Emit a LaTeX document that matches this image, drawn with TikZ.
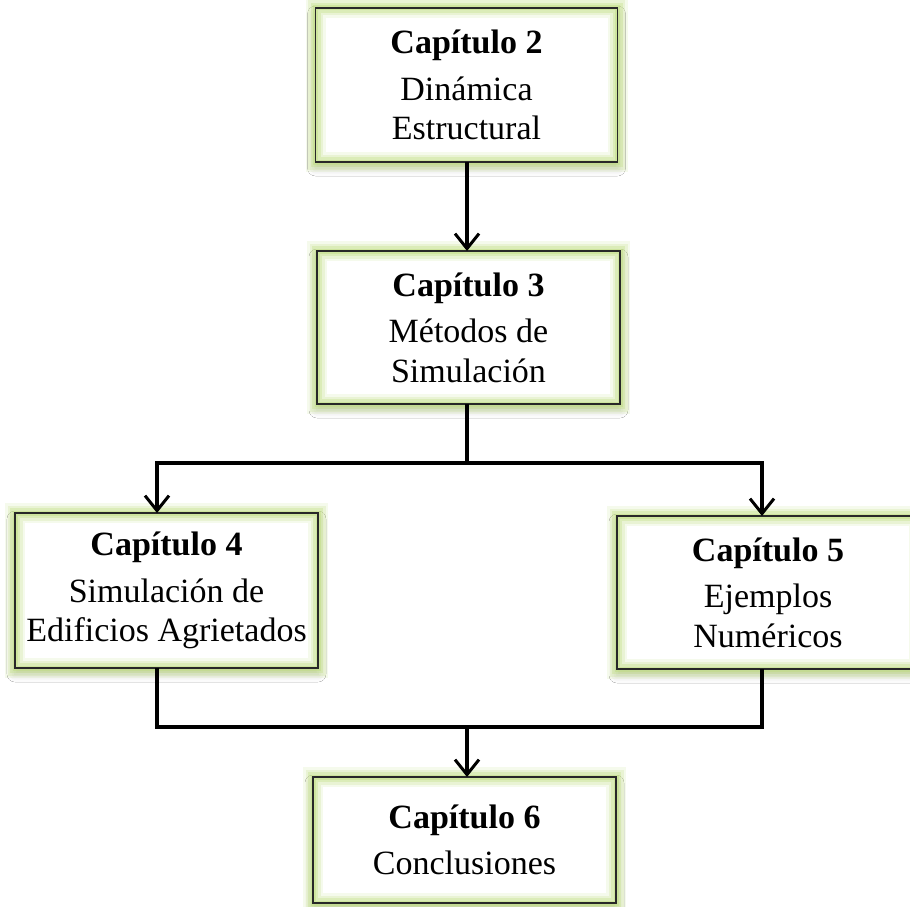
\documentclass[tikz,border=0pt]{standalone}
\usepackage{fontspec}
\setmainfont{Liberation Serif}
\usetikzlibrary{arrows.meta,shadows.blur}
\definecolor{glowc}{RGB}{192,222,128}
\definecolor{edgec}{RGB}{40,40,40}
\tikzset{
  chap/.style={rectangle, inner sep=0pt, outer sep=0pt, fill=white,
    align=center, font=\fontsize{34}{39.5}\selectfont,
    blur shadow={shadow xshift=0pt, shadow yshift=-6pt, shadow blur radius=8pt, shadow opacity=22},
    postaction={draw=glowc, line width=20pt, draw opacity=0.15},
    postaction={draw=glowc, line width=15pt, draw opacity=0.22},
    postaction={draw=glowc, line width=10pt, draw opacity=0.32},
    postaction={draw=glowc, line width=5pt, draw opacity=0.45},
    postaction={draw=edgec, line width=1.4pt}},
  conn/.style={line width=3.3pt, line join=miter, draw=black},
  arr/.style={conn, -{Straight Barb[length=15pt,width=24pt,line width=3pt]}}
}
\begin{document}
\begin{tikzpicture}[x=1pt,y=-1pt]
\useasboundingbox (0,0) rectangle (910,907);
\fill[white] (0,0) rectangle (910,907);
\node[chap, minimum width=302pt, minimum height=154pt] (b2) at (466.5,85)
  {\textbf{Capítulo 2}\\[7pt]Dinámica\\Estructural};
\node[chap, minimum width=303pt, minimum height=153pt] (b3) at (468.5,327.5)
  {\textbf{Capítulo 3}\\[7pt]Métodos de\\Simulación};
\node[chap, minimum width=303pt, minimum height=155pt] (b4) at (166.5,590.5)
  {\textbf{Capítulo 4}\\[7pt]Simulación de\\Edificios Agrietados};
\node[chap, minimum width=302pt, minimum height=153pt] (b5) at (768,592.5)
  {\textbf{Capítulo 5}\\[7pt]Ejemplos\\Numéricos};
\node[chap, minimum width=303pt, minimum height=126pt] (b6) at (464.5,840)
  {\textbf{Capítulo 6}\\[7pt]Conclusiones};
\coordinate (j1) at (467,463);
\coordinate (j2) at (467,727);
\coordinate (b4in) at ([xshift=-9.5pt]b4.north);
\coordinate (b5in) at ([xshift=-6pt]b5.north);
\coordinate (b4out) at ([xshift=-9.5pt]b4.south);
\coordinate (b5out) at ([xshift=-6pt]b5.south);
\draw[arr] (b2.south -| j1) -- (b3.north -| j1);
\draw[conn] (b3.south -| j1) -- (j1);
\draw[arr] (j1) -| (b4in);
\draw[arr] (j1) -| (b5in);
\draw[conn] (b4out) |- (j2) -| (b5out);
\draw[arr] (j2) -- (b6.north -| j2);
\end{tikzpicture}
\end{document}
